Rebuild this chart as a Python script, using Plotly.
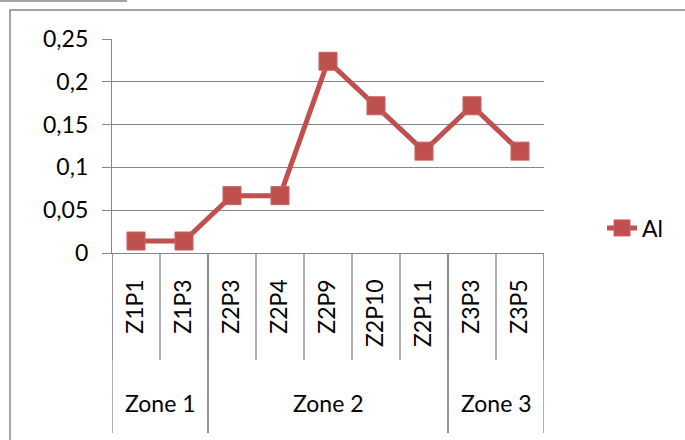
import plotly.graph_objects as go

# Sampling points, grouped by zone
points = ["Z1P1", "Z1P3", "Z2P3", "Z2P4", "Z2P9", "Z2P10", "Z2P11", "Z3P3", "Z3P5"]
zones = ["Zone 1", "Zone 1", "Zone 2", "Zone 2", "Zone 2", "Zone 2", "Zone 2", "Zone 3", "Zone 3"]
al_values = [0.014, 0.014, 0.067, 0.067, 0.224, 0.172, 0.119, 0.172, 0.119]

y_tick_vals = [0, 0.05, 0.1, 0.15, 0.2, 0.25]
y_tick_text = ["0", "0,05", "0,1", "0,15", "0,2", "0,25"]

W, H = 685, 440
ML, MR, MT, MB = 112, 141, 39, 187
PW, PH = W - ML - MR, H - MT - MB

RED = "#C0504D"
GRID = "#868686"
FONT = "Lato"
FS = 23


def px_x(px):
    return (px - ML) / PW


def px_y(py):
    return (H - MB - py) / PH


fig = go.Figure()
fig.add_trace(go.Scatter(
    x=points, y=al_values, name="Al", mode="lines+markers",
    line=dict(color=RED, width=5),
    marker=dict(symbol="square", size=18, color=RED, line=dict(color="#C9605D", width=1)),
))

shapes = []
n = len(points)
# short dividers between every point label
for i in range(n + 1):
    shapes.append(dict(type="line", xref="x", yref="paper", x0=i - 0.5, x1=i - 0.5,
                       y0=0, y1=px_y(360), line=dict(color=GRID, width=1.3)))
# long dividers at zone boundaries, and zone labels
annotations = []
start = 0
for i in range(1, n + 1):
    if i == n or zones[i] != zones[start]:
        for b in (start - 0.5, i - 0.5):
            shapes.append(dict(type="line", xref="x", yref="paper", x0=b, x1=b,
                               y0=0, y1=px_y(433), line=dict(color=GRID, width=1.3)))
        annotations.append(dict(text=zones[start], xref="x", yref="paper",
                                x=(start + i - 1) / 2, y=px_y(403), showarrow=False,
                                font=dict(family=FONT, size=FS, color="#000000"),
                                xanchor="center", yanchor="middle"))
        start = i

# chart frame
shapes.append(dict(type="rect", xref="paper", yref="paper",
                   x0=px_x(10), x1=px_x(700), y0=px_y(450), y1=px_y(10),
                   line=dict(color=GRID, width=1.5), layer="below"))
shapes.append(dict(type="line", xref="paper", yref="paper",
                   x0=px_x(0), x1=px_x(127), y0=px_y(1), y1=px_y(1),
                   line=dict(color=GRID, width=1.5)))

fig.update_layout(
    width=W, height=H,
    margin=dict(l=ML, r=MR, t=MT, b=MB, pad=0),
    paper_bgcolor="white", plot_bgcolor="white",
    font=dict(family=FONT, size=FS, color="#000000"),
    showlegend=True,
    legend=dict(x=px_x(602), y=px_y(228), xanchor="left", yanchor="middle",
                bgcolor="rgba(0,0,0,0)", font=dict(family=FONT, size=FS)),
    shapes=shapes,
    annotations=annotations,
)
fig.update_xaxes(
    type="category", range=[-0.5, n - 0.5], showgrid=False,
    showline=True, linecolor=GRID, linewidth=1.3,
    ticks="", tickangle=-90, ticklabelstandoff=16,
    tickfont=dict(family=FONT, size=FS),
)
fig.update_yaxes(
    range=[0, 0.25], tickvals=y_tick_vals, ticktext=y_tick_text,
    showgrid=True, gridcolor=GRID, gridwidth=1.3,
    showline=True, linecolor=GRID, linewidth=1.3,
    ticks="outside", ticklen=9, tickcolor=GRID, tickwidth=1.3,
    zeroline=False, ticklabelstandoff=9,
    tickfont=dict(family=FONT, size=FS),
)

fig.write_html("out.html")
